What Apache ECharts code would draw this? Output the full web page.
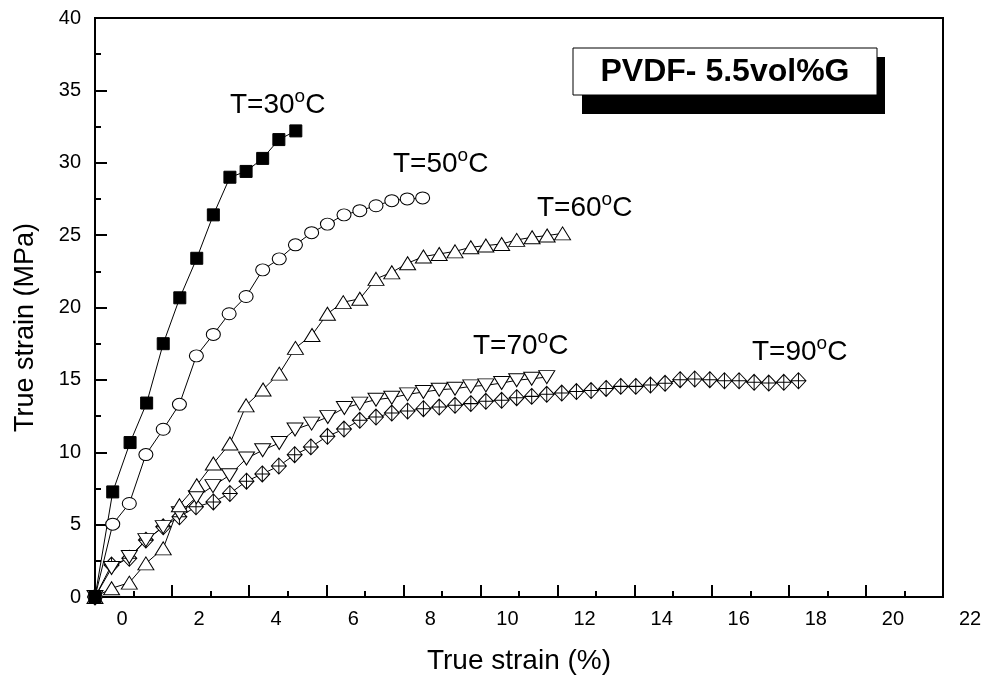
<!DOCTYPE html>
<html>
<head>
<meta charset="utf-8">
<script src="https://cdn.jsdelivr.net/npm/echarts@6/dist/echarts.min.js"></script>
<style>
  html, body { margin: 0; padding: 0; background: #fff; }
  #chart { width: 986px; height: 685px; }
</style>
</head>
<body>
<div id="chart"></div>
<script>
// true strain (%) vs true stress (MPa), PVDF with 5.5 vol% graphene
const t30 = [[0, 0], [0.46, 7.26], [0.91, 10.67], [1.34, 13.4], [1.77, 17.5], [2.2, 20.67], [2.64, 23.4],
  [3.07, 26.4], [3.5, 29.0], [3.92, 29.4], [4.35, 30.3], [4.77, 31.6], [5.21, 32.2]];

const t50 = [[0, 0], [0.46, 5.03], [0.89, 6.46], [1.32, 9.84], [1.77, 11.59], [2.19, 13.31], [2.63, 16.66],
  [3.07, 18.14], [3.48, 19.57], [3.92, 20.76], [4.35, 22.6], [4.78, 23.36], [5.2, 24.33], [5.62, 25.17],
  [6.03, 25.76], [6.46, 26.4], [6.87, 26.69], [7.29, 27.03], [7.7, 27.38], [8.1, 27.5], [8.5, 27.57]];

const t60 = [[0, 0], [0.43, 0.6], [0.89, 0.99], [1.32, 2.32], [1.77, 3.36], [2.19, 6.34], [2.64, 7.72],
  [3.07, 9.22], [3.5, 10.6], [3.92, 13.24], [4.36, 14.34], [4.78, 15.43], [5.2, 17.21], [5.63, 18.1],
  [6.03, 19.57], [6.44, 20.37], [6.87, 20.6], [7.29, 21.98], [7.7, 22.43], [8.11, 23.06], [8.52, 23.52],
  [8.93, 23.7], [9.34, 23.88], [9.75, 24.16], [10.14, 24.28], [10.55, 24.39], [10.94, 24.67],
  [11.34, 24.85], [11.73, 24.97], [12.13, 25.12]];

const t70 = [[0, 0], [0.43, 2.0], [0.89, 2.76], [1.32, 3.93], [1.77, 4.83], [2.19, 5.79], [2.63, 6.9],
  [3.06, 7.66], [3.49, 8.41], [3.93, 9.57], [4.35, 10.14], [4.78, 10.64], [5.19, 11.57], [5.62, 11.98],
  [6.04, 12.43], [6.47, 13.06], [6.87, 13.36], [7.29, 13.63], [7.7, 13.77], [8.11, 14.0], [8.52, 14.16],
  [8.93, 14.32], [9.34, 14.39], [9.75, 14.55], [10.14, 14.62], [10.55, 14.78], [10.94, 14.97],
  [11.33, 15.08], [11.72, 15.19]];

const t90 = [[0, 0], [0.43, 2.21], [0.89, 2.67], [1.32, 3.93], [1.77, 4.85], [2.19, 5.54], [2.62, 6.23],
  [3.07, 6.57], [3.5, 7.15], [3.93, 8.0], [4.34, 8.5], [4.77, 9.05], [5.18, 9.83], [5.6, 10.37],
  [6.03, 11.1], [6.46, 11.6], [6.87, 12.21], [7.29, 12.43], [7.7, 12.71], [8.11, 12.85], [8.52, 13.01],
  [8.93, 13.12], [9.34, 13.24], [9.75, 13.36], [10.14, 13.52], [10.55, 13.59], [10.94, 13.77],
  [11.33, 13.86], [11.72, 14.0], [12.11, 14.09], [12.49, 14.19], [12.87, 14.26], [13.26, 14.41],
  [13.64, 14.55], [14.03, 14.55], [14.41, 14.64], [14.79, 14.76], [15.18, 15.01], [15.56, 15.06],
  [15.95, 15.01], [16.33, 14.94], [16.71, 14.94], [17.1, 14.83], [17.48, 14.78], [17.87, 14.83],
  [18.25, 14.94]];

const tempLabels = ['T=30', 'T=50', 'T=60', 'T=70', 'T=90'];
const boxTitle = 'PVDF- 5.5vol%G';

const FONT = 'Liberation Sans, Arial, sans-serif';
const chart = echarts.init(document.getElementById('chart'), null, { renderer: 'canvas' });

function curve(name, data, symbol, size, fill, rotate) {
  return {
    name: name,
    type: 'line',
    data: data,
    symbol: symbol,
    symbolSize: size,
    symbolRotate: rotate || 0,
    showAllSymbol: true,
    lineStyle: { color: '#000', width: 1 },
    itemStyle: { color: fill, borderColor: '#000', borderWidth: 1 },
    emphasis: { disabled: true },
    animation: false
  };
}

// "T=xx°C" with a raised o
function tempText(i, left, top) {
  return {
    type: 'text',
    left: left,
    top: top,
    style: {
      text: '{a|' + tempLabels[i] + '}{s|o}{a|C}',
      rich: {
        a: { fontSize: 28, fontFamily: FONT, fill: '#000', lineHeight: 36 },
        s: { fontSize: 19, fontFamily: FONT, fill: '#000', verticalAlign: 'top', lineHeight: 19 }
      }
    }
  };
}

const option = {
  backgroundColor: '#fff',
  animation: false,
  grid: {
    left: 95, right: 43, top: 18, bottom: 88,
    show: true, borderColor: '#000', borderWidth: 2
  },
  xAxis: {
    type: 'value',
    min: 0, max: 22, interval: 2,
    name: 'True strain (%)',
    nameLocation: 'middle',
    nameGap: 50,
    nameTextStyle: { fontSize: 28, fontFamily: FONT, color: '#000' },
    axisLine: { lineStyle: { color: '#000', width: 2 } },
    axisTick: { inside: true, length: 12, lineStyle: { color: '#000', width: 2 } },
    minorTick: { show: true, splitNumber: 2, length: 6, lineStyle: { color: '#000', width: 2 } },
    splitLine: { show: false },
    axisLabel: {
      fontSize: 20, fontFamily: FONT, color: '#000', margin: 12,
      padding: [0, 0, 0, 54]
    }
  },
  yAxis: {
    type: 'value',
    min: 0, max: 40, interval: 5,
    name: 'True strain (MPa)',
    nameLocation: 'middle',
    nameGap: 56,
    nameTextStyle: { fontSize: 27, fontFamily: FONT, color: '#000', padding: [0, 40, 0, 0] },
    axisLine: { lineStyle: { color: '#000', width: 2 } },
    axisTick: { inside: true, length: 12, lineStyle: { color: '#000', width: 2 } },
    minorTick: { show: true, splitNumber: 2, length: 6, lineStyle: { color: '#000', width: 2 } },
    splitLine: { show: false },
    axisLabel: { fontSize: 20, fontFamily: FONT, color: '#000', margin: 14 }
  },
  series: [
    curve('T=90', t90, 'path://M10,0 L20,10 L10,20 L0,10 Z M10,0 L10,20 M0,10 L20,10', [15, 16], '#fff'),
    curve('T=70', t70, 'triangle', [16, 13], '#fff', 180),
    curve('T=60', t60, 'triangle', [16, 13], '#fff'),
    curve('T=50', t50, 'circle', [14, 12], '#fff'),
    curve('T=30', t30, 'rect', 12, '#000')
  ],
  graphic: [
    { type: 'rect', shape: { x: 582, y: 57, width: 303, height: 57 }, style: { fill: '#000' } },
    { type: 'rect', shape: { x: 573, y: 48, width: 304, height: 47 }, style: { fill: '#fff', stroke: '#000', lineWidth: 1 } },
    {
      type: 'text', x: 725, y: 72,
      style: {
        text: boxTitle, fontSize: 32, fontWeight: 'bold', fontFamily: FONT, fill: '#000',
        textAlign: 'center', textVerticalAlign: 'middle'
      }
    },
    tempText(0, 230, 87),
    tempText(1, 393, 146),
    tempText(2, 537, 190),
    tempText(3, 473, 328),
    tempText(4, 752, 334)
  ]
};

chart.setOption(option);
</script>
</body>
</html>
